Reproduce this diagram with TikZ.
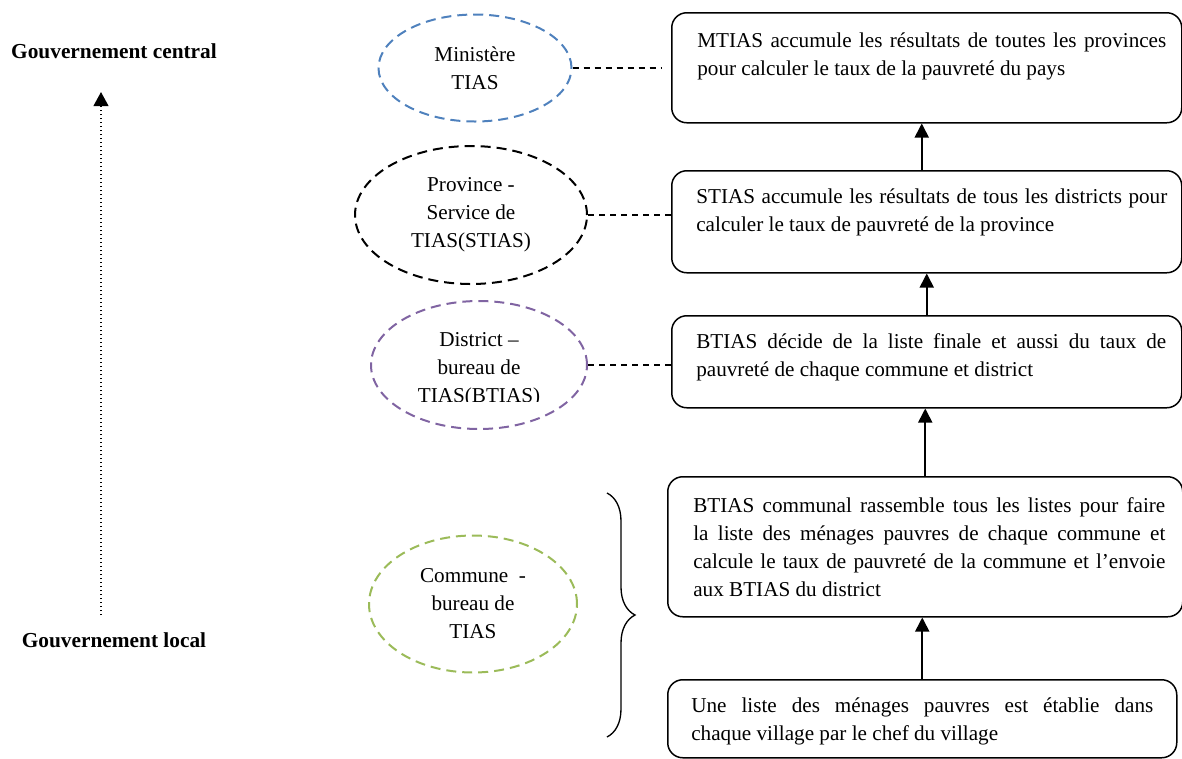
\documentclass[tikz,border=0pt]{standalone}
\usepackage{fontspec}
\setmainfont{Liberation Serif}
\usetikzlibrary{arrows.meta, positioning, shapes.geometric, decorations.pathreplacing}

\definecolor{ovalblue}{RGB}{79,129,189}
\definecolor{ovalpurple}{RGB}{128,100,162}
\definecolor{ovalgreen}{RGB}{155,187,89}

\begin{document}
\begin{tikzpicture}[
    x=0.6pt, y=-0.6pt,
    font=\fontsize{12.7pt}{16.8pt}\selectfont,
    frame/.style={draw, rounded corners=9pt, line width=0.9pt,
                  anchor=north west, inner sep=0pt},
    txt/.style={anchor=base west, inner sep=0pt, align=justify},
    oval/.style={ellipse, line width=1.2pt, dash pattern=on 6pt off 3.6pt,
                 inner sep=0pt, align=center},
    link/.style={line width=0.7pt, dash pattern=on 3.6pt off 3pt},
    flow/.style={-{Triangle[length=8.5pt, width=8.5pt]}, line width=1pt},
    level/.style={font=\fontsize{12.8pt}{14pt}\selectfont\bfseries}
  ]
  \useasboundingbox (0,0) rectangle (1182,758);

  % left scale
  \node[level] (central) at (114,51) {Gouvernement central};
  \node[level] (local) at (114,640) {Gouvernement local};
  \coordinate (dotlow) at (101,615);
  \coordinate (dothigh) at (101,92);
  \draw[-{Triangle[length=8.5pt, width=9pt]}, line width=0.9pt,
        dash pattern=on 0.9pt off 1.5pt] (dotlow) -- (dothigh);

  % levels
  \node[oval, draw=ovalblue, minimum width=115.8pt, minimum height=64.2pt]
    (ministere) at (475,68) {Ministère\\TIAS};
  \node[oval, draw=black, minimum width=139.2pt, minimum height=82.8pt]
    (province) at (471,215) {Province -\\Service de\\TIAS(STIAS)};
  \node[oval, draw=ovalpurple, minimum width=129.6pt, minimum height=76.8pt]
    (district) at (479,365) {};
  \begin{scope}
    \clip (360,290) rectangle (600,401);
    \node[align=center] (district-t) at (479,370) {District –\\bureau de\\TIAS(BTIAS)};
  \end{scope}
  \node[oval, draw=ovalgreen, minimum width=124.8pt, minimum height=82.2pt]
    (commune) at (473,604) {Commune~~-\\bureau de\\TIAS};

  \draw[decorate, decoration={brace, amplitude=16.8pt}, line width=0.8pt]
    (607,493) -- (607,737);

  % boxes
  \node[frame, minimum width=306pt, minimum height=66pt] (mtias) at (671,12) {};
  \node[frame, minimum width=306pt, minimum height=61.2pt] (stias) at (671,170) {};
  \node[frame, minimum width=306pt, minimum height=55.2pt] (btias) at (671,315) {};
  \node[frame, minimum width=309pt, minimum height=84pt] (cbtias) at (667,476) {};
  \node[frame, minimum width=305.4pt, minimum height=46.8pt] (village) at (667,679) {};

  \node[txt, text width=281.4pt] (mtias-t) at (697,47)
    {MTIAS accumule les résultats de toutes les provinces\linebreak
     pour calculer le taux de la pauvreté du pays};
  \node[txt, text width=282.6pt] (stias-t) at (696,203)
    {STIAS accumule les résultats de tous les districts pour\linebreak
     calculer le taux de pauvreté de la province};
  \node[txt, text width=282pt] (btias-t) at (696,348)
    {BTIAS décide de la liste finale et aussi du taux de\linebreak
     pauvreté de chaque commune et district};
  \node[txt, text width=283.2pt] (cbtias-t) at (693,512)
    {BTIAS communal rassemble tous les listes pour faire\linebreak
     la liste des ménages pauvres de chaque commune et\linebreak
     calcule le taux de pauvreté de la commune et l’envoie\linebreak
     aux BTIAS du district};
  \node[txt, text width=277.2pt] (village-t) at (691,712)
    {Une liste des ménages pauvres est établie dans\linebreak
     chaque village par le chef du village};

  % links
  \draw[link] (ministere.east) -- ([xshift=-5.4pt]ministere.east -| mtias.west);
  \draw[link] (province.east) -- (province.east -| stias.west);
  \draw[link] (district.east) -- (district.east -| btias.west);

  \draw[flow] (village.north) -- (village.north |- cbtias.south);
  \draw[flow] (cbtias.north) -- (cbtias.north |- btias.south);
  \draw[flow] (btias.north) -- (btias.north |- stias.south);
  \draw[flow] ([xshift=-3pt]stias.north) -- ([xshift=-3pt]stias.north |- mtias.south);
\end{tikzpicture}
\end{document}
